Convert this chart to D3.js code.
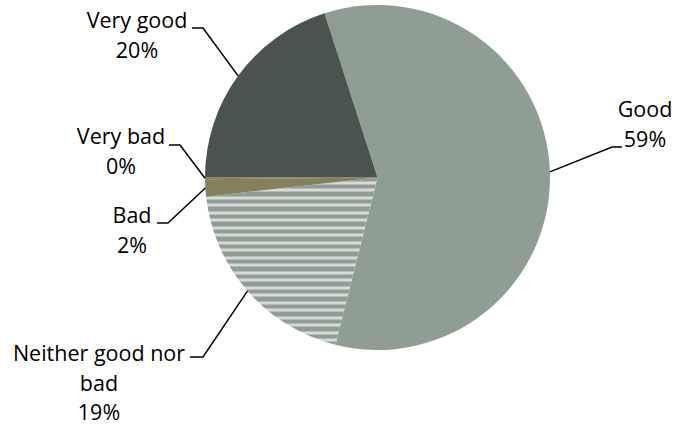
<!DOCTYPE html>
<html><head><meta charset="utf-8">
<script src="https://cdn.jsdelivr.net/npm/d3@7"></script>
<style>body{margin:0;background:#fff}</style></head>
<body>
<svg id="c" width="674" height="429"></svg>
<script>
// ---- data ----
const categories = ["Good", "Neither good nor bad", "Bad", "Very bad", "Very good"];
const values = [58.9, 19.3, 1.6, 0.2, 20.0];
const percentLabels = ["59%", "19%", "2%", "0%", "20%"];

// ---- styling / layout ----
const fills = {
  "Good": "#8f9e94",
  "Neither good nor bad": "url(#stripes)",
  "Bad": "#857f5b",
  "Very bad": "#857f5b",
  "Very good": "#4a534e"
};
const labelLayout = {
  "Good":                 {x: 645, y: 117, lines: ["Good"],              seg: [612, 622, 147]},
  "Neither good nor bad": {x: 99,  y: 361, lines: ["Neither good nor", "bad"], seg: [203, 190, 357]},
  "Bad":                  {x: 132, y: 223, lines: ["Bad"],               seg: [168, 157, 223]},
  "Very bad":             {x: 121, y: 144, lines: ["Very bad"],          seg: [180, 169, 145]},
  "Very good":            {x: 137, y: 28,  lines: ["Very good"],         seg: [203, 192, 28]}
};
const cx = 377.5, cy = 177.5, R = 172.5;
const lineH = 29.5;
const startDeg = -17.9;

const svg = d3.select("#c");
const defs = svg.append("defs");
const pat = defs.append("pattern").attr("id", "stripes")
  .attr("patternUnits", "userSpaceOnUse").attr("width", 20).attr("height", 15);
pat.append("rect").attr("width", 20).attr("height", 15).attr("fill", "#8f9e94");
pat.append("rect").attr("y", 4).attr("width", 20).attr("height", 3).attr("fill", "#d9d9d9");
pat.append("rect").attr("y", 11).attr("width", 20).attr("height", 3).attr("fill", "#d9d9d9");

const data = categories.map((c, i) => ({cat: c, value: values[i], pct: percentLabels[i]}));
const rad = d => d * Math.PI / 180;
const pie = d3.pie().sort(null).value(d => d.value)
  .startAngle(rad(startDeg)).endAngle(rad(startDeg + 360));
const arcs = pie(data);
const arc = d3.arc().innerRadius(0).outerRadius(R);
const edgeArc = d3.arc().innerRadius(R).outerRadius(R);

const g = svg.append("g").attr("transform", `translate(${cx},${cy})`);
g.selectAll("path.slice").data(arcs).enter().append("path")
  .attr("class", "slice")
  .attr("d", arc)
  .attr("fill", d => fills[d.data.cat]);

// leader lines
svg.selectAll("polyline.leader").data(arcs).enter().append("polyline")
  .attr("class", "leader")
  .attr("fill", "none").attr("stroke", "#000").attr("stroke-width", 1.5)
  .attr("points", d => {
    const L = labelLayout[d.data.cat];
    const [ex, ey] = edgeArc.centroid(d);
    return [[ex + cx, ey + cy], [L.seg[0], L.seg[2]], [L.seg[1], L.seg[2]]].map(p => p.join(",")).join(" ");
  });

// labels
const font = "'Open Sans', sans-serif";
arcs.forEach(d => {
  const L = labelLayout[d.data.cat];
  const t = svg.append("text")
    .attr("text-anchor", "middle")
    .attr("font-family", font)
    .attr("font-size", 21.5)
    .attr("fill", "#000");
  const lines = L.lines.concat([d.data.pct]);
  lines.forEach((ln, i) => {
    t.append("tspan").attr("x", L.x).attr("y", L.y + i * lineH).text(ln);
  });
});
</script>
</body></html>
